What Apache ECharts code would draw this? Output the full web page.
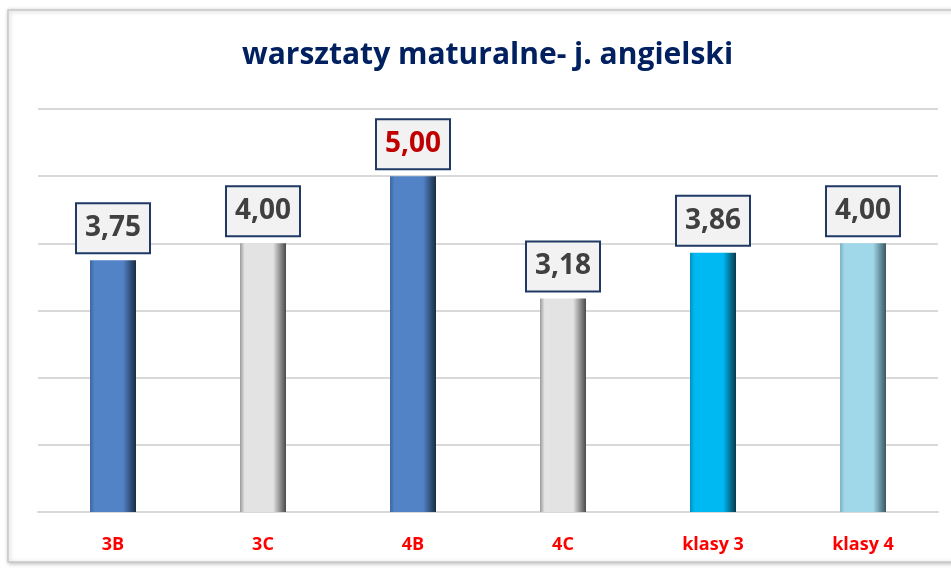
<!DOCTYPE html>
<html>
<head>
<meta charset="utf-8">
<script src="https://cdn.jsdelivr.net/npm/echarts@6/dist/echarts.min.js"></script>
<style>
  html, body { margin: 0; padding: 0; background: #fff; }
  #chart { width: 951px; height: 569px; }
</style>
</head>
<body>
<div id="chart"></div>
<script>
var categories = ['3B', '3C', '4B', '4C', 'klasy 3', 'klasy 4'];
var values = [3.75, 4.00, 5.00, 3.18, 3.86, 4.00];
var barColors = ['#5283c6', '#e3e3e3', '#5283c6', '#e3e3e3', '#00b9f2', '#a0d8ea'];
var leftColors = ['#3d679f', '#9a9a9a', '#3d679f', '#9a9a9a', '#0090c0', '#7fb0c0'];
var edgeColors = ['#1a2c44', '#4a4a4a', '#1a2c44', '#4a4a4a', '#08394c', '#3a5862'];
var labelColors = ['#404040', '#404040', '#c00000', '#404040', '#404040', '#404040'];

var myChart = echarts.init(document.getElementById('chart'));

function barGradient(i) {
	return new echarts.graphic.LinearGradient(0, 0, 1, 0, [
		{ offset: 0, color: leftColors[i] },
		{ offset: 0.1, color: barColors[i] },
		{ offset: 0.72, color: barColors[i] },
		{ offset: 1, color: edgeColors[i] }
	]);
}

var seriesData = [];
for (var i = 0; i < values.length; i++) {
	seriesData.push({
		value: values[i],
		itemStyle: { color: barGradient(i) },
		label: { color: labelColors[i] }
	});
}

var option = {
	backgroundColor: '#fff',
	graphic: [{
		type: 'rect',
		z: -10,
		shape: { x: 8, y: 10, width: 960, height: 552 },
		style: {
			fill: '#fff',
			stroke: '#c8c8c8',
			lineWidth: 1.5,
			shadowBlur: 4,
			shadowColor: 'rgba(0,0,0,0.25)',
			shadowOffsetX: 1,
			shadowOffsetY: 1
		}
	}],
	title: {
		text: 'warsztaty maturalne- j. angielski',
		left: 237,
		top: 35,
		textStyle: {
			fontFamily: 'Open Sans',
			fontWeight: 'bold',
			fontSize: 30,
			color: '#002060'
		}
	},
	grid: { left: 38, right: 13, top: 109, bottom: 57 },
	xAxis: {
		type: 'category',
		data: categories,
		axisLine: { lineStyle: { color: '#d9d9d9', width: 2 } },
		axisTick: { show: false },
		axisLabel: {
			margin: 24,
			color: '#ff0000',
			fontFamily: 'Open Sans',
			fontWeight: 'bold',
			fontSize: 18
		}
	},
	yAxis: {
		type: 'value',
		min: 0,
		max: 6,
		interval: 1,
		axisLabel: { show: false },
		axisLine: { show: false },
		axisTick: { show: false },
		splitLine: { lineStyle: { color: '#d9d9d9', width: 2 } }
	},
	series: [{
		type: 'bar',
		barWidth: 46,
		data: seriesData,
		label: {
			show: true,
			position: 'top',
			distance: 8,
			formatter: function (p) { return p.value.toFixed(2).replace('.', ','); },
			fontFamily: 'Open Sans',
			fontWeight: 'bold',
			fontSize: 28,
			lineHeight: 34,
			backgroundColor: '#f2f2f2',
			borderColor: '#1f3864',
			borderWidth: 2,
			padding: [7, 8]
		}
	}]
};

myChart.setOption(option);
</script>
</body>
</html>
